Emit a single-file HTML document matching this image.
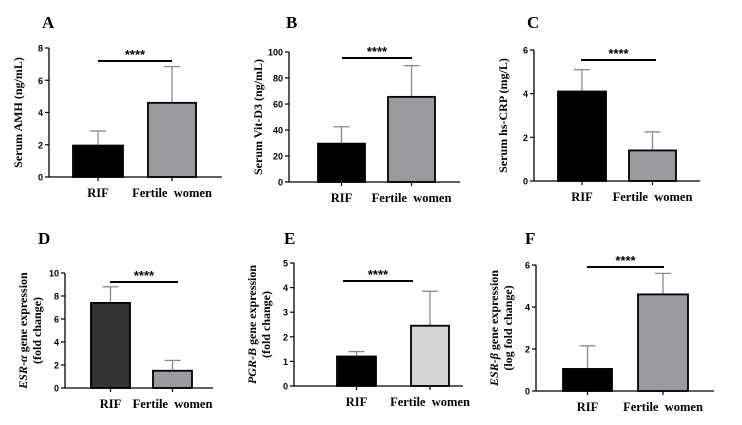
<!DOCTYPE html>
<html><head><meta charset="utf-8"><style>
body{margin:0;background:#fff;width:742px;height:425px;overflow:hidden}
svg{display:block}
</style></head><body>
<svg id="fig" width="742" height="425" xmlns="http://www.w3.org/2000/svg"></svg>
<script>
const categories = ["RIF", "Fertile  women"];
const aMeans = [1.95, 4.6];   const aErr = [2.85, 6.85];
const bMeans = [29.5, 65.5];  const bErr = [42.5, 89.5];
const cMeans = [4.1, 1.4];    const cErr = [5.1, 2.25];
const dMeans = [7.4, 1.5];    const dErr = [8.8, 2.4];
const eMeans = [1.2, 2.45];   const eErr = [1.4, 3.85];
const fMeans = [1.05, 4.6];   const fErr = [2.15, 5.6];
const aTicks = [0, 2, 4, 6, 8];
const bTicks = [0, 20, 40, 60, 80, 100];
const cTicks = [0, 2, 4, 6];
const dTicks = [0, 2, 4, 6, 8, 10];
const eTicks = [0, 1, 2, 3, 4, 5];
const fTicks = [0, 2, 4, 6];

const NS = "http://www.w3.org/2000/svg";
const svg = document.getElementById('fig');
function mk(tag, attrs, parent){
  const e = document.createElementNS(NS, tag);
  for (const k in attrs) e.setAttribute(k, attrs[k]);
  (parent || svg).appendChild(e);
  return e;
}
const panels = [
 {id:'a', L:'A', lx:42, ly:28, ax:49, ax2:222, y0:177, y1:48, bars:[[73,123],[148,196]], colors:['#000','#9b9b9f'], means:aMeans, err:aErr, ticks:aTicks, sig:[98,172,61], ylab:['Serum AMH (ng/mL)']},
 {id:'b', L:'B', lx:286, ly:28, ax:289, ax2:460, y0:182, y1:52, bars:[[318,365],[388,435]], colors:['#000','#9b9b9f'], means:bMeans, err:bErr, ticks:bTicks, sig:[342,412,58], ylab:['Serum Vit-D3 (ng/mL)']},
 {id:'c', L:'C', lx:527, ly:28, ax:534, ax2:700, y0:181, y1:50, bars:[[558,606],[629,676]], colors:['#000','#9b9b9f'], means:cMeans, err:cErr, ticks:cTicks, sig:[581,656,60], ylab:['Serum hs-CRP (mg/L)']},
 {id:'d', L:'D', lx:38, ly:244, ax:65, ax2:213, y0:388, y1:273, bars:[[91,130],[153,192]], colors:['#333','#9b9b9f'], means:dMeans, err:dErr, ticks:dTicks, sig:[110,178,282], ylab:['ESR-α',' gene expression','(fold change)']},
 {id:'e', L:'E', lx:284, ly:244, ax:294, ax2:463, y0:386, y1:263, bars:[[337,376],[411,449]], colors:['#000','#d4d4d4'], means:eMeans, err:eErr, ticks:eTicks, sig:[343,413,281], ylab:['PGR-B',' gene expression','(fold change)']},
 {id:'f', L:'F', lx:525, ly:244, ax:536, ax2:714, y0:391, y1:265, bars:[[563,612],[638,688]], colors:['#000','#9b9b9f'], means:fMeans, err:fErr, ticks:fTicks, sig:[587,664,267], ylab:['ESR-β',' gene expression','(log fold change)']}
];
const serif = '"Liberation Serif", serif';
const sans = '"Liberation Sans", sans-serif';
panels.forEach(p => {
  const g = mk('g', {});
  
  
  const tmax = p.ticks[p.ticks.length-1];
  const y = v => p.y0 - (v / tmax) * (p.y0 - p.y1);
  const lt = mk('text', {x:p.lx, y:p.ly, 'font-family':serif, 'font-weight':'bold', 'font-size':17}, g);
  lt.textContent = p.L;
  
  
  p.bars.forEach((b, i) => {
    const cx = (b[0]+b[1])/2;
    const eb = mk('line', {x1:cx, x2:cx, y1:y(p.means[i]), y2:y(p.err[i]), stroke:'#888', 'stroke-width':1.3}, g);
    
    
    const cap = mk('line', {x1:cx-8, x2:cx+8, y1:y(p.err[i]), y2:y(p.err[i]), stroke:'#888', 'stroke-width':1.3}, g);
    
    
    const r = mk('rect', {x:b[0], y:y(p.means[i]), width:b[1]-b[0], height:p.y0 - y(p.means[i]), fill:p.colors[i], stroke:'#000', 'stroke-width':1.8}, g);
    
    
    mk('line', {x1:cx, x2:cx, y1:p.y0, y2:p.y0+4, stroke:'#000', 'stroke-width':1.2}, g);
    const xl = mk('text', {x:cx, y:p.y0+20, 'text-anchor':'middle', 'font-family':serif, 'font-weight':'bold', 'font-size':12.5}, g);
    xl.textContent = categories[i];
    xl.style.whiteSpace = 'pre';
    
    
  });
  const ya = mk('line', {x1:p.ax, x2:p.ax, y1:p.y1, y2:p.y0, stroke:'#000', 'stroke-width':1.3}, g);
  
  
  const xa = mk('line', {x1:p.ax, x2:p.ax2, y1:p.y0, y2:p.y0, stroke:'#000', 'stroke-width':1.3}, g);
  
  
  p.ticks.forEach(t => {
    mk('line', {x1:p.ax-4, x2:p.ax, y1:y(t), y2:y(t), stroke:'#000', 'stroke-width':1.2}, g);
    const tl = mk('text', {x:p.ax-6, y:y(t)+3.5, 'text-anchor':'end', 'font-family':sans, 'font-weight':'bold', 'font-size':9}, g);
    tl.textContent = t;
    
    
  });
  const sl = mk('line', {x1:p.sig[0], x2:p.sig[1], y1:p.sig[2], y2:p.sig[2], stroke:'#000', 'stroke-width':2}, g);
  
  
  const st = mk('text', {x:(p.sig[0]+p.sig[1])/2, y:p.sig[2]-2, 'text-anchor':'middle', 'font-family':sans, 'font-weight':'bold', 'font-size':13}, g);
  st.textContent = '****';
  
  
  const cy = (p.y0+p.y1)/2;
  if (p.ylab.length === 1) {
    const yl = mk('text', {x:0, y:0, transform:`translate(${p.ax-27},${cy}) rotate(-90)`, 'text-anchor':'middle', 'font-family':serif, 'font-weight':'bold', 'font-size':12}, g);
    yl.textContent = p.ylab[0];
    
    
  } else {
    const yl = mk('text', {x:0, y:0, transform:`translate(${p.ax-38},${cy}) rotate(-90)`, 'text-anchor':'middle', 'font-family':serif, 'font-weight':'bold', 'font-size':12}, g);
    const s1 = mk('tspan', {'font-style':'italic'}, yl); s1.textContent = p.ylab[0];
    const s2 = mk('tspan', {}, yl); s2.textContent = p.ylab[1];
    
    
    const yl2 = mk('text', {x:0, y:0, transform:`translate(${p.ax-24},${cy}) rotate(-90)`, 'text-anchor':'middle', 'font-family':serif, 'font-weight':'bold', 'font-size':12}, g);
    yl2.textContent = p.ylab[2];
    
    
  }
});
</script>
</body></html>
